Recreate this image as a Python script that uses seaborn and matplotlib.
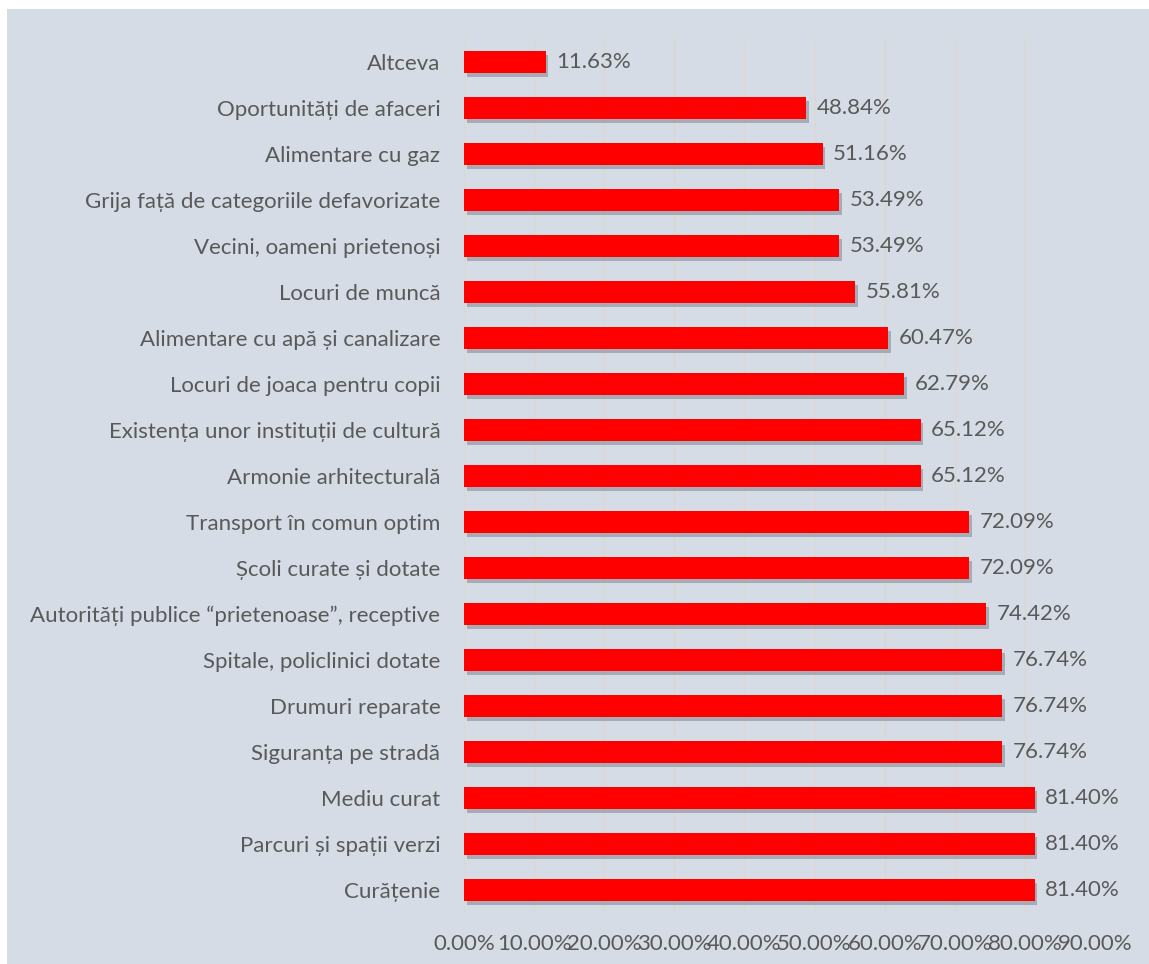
import matplotlib
matplotlib.use("Agg")
import matplotlib.pyplot as plt
import matplotlib.patheffects as pe
from matplotlib.patches import Rectangle
import seaborn as sns
import pandas as pd
from matplotlib.ticker import FuncFormatter, MultipleLocator

categories = [
    "Altceva",
    "Oportunități de afaceri",
    "Alimentare cu gaz",
    "Grija față de categoriile defavorizate",
    "Vecini, oameni prietenoși",
    "Locuri de muncă",
    "Alimentare cu apă și canalizare",
    "Locuri de joaca pentru copii",
    "Existența unor instituții de cultură",
    "Armonie arhitecturală",
    "Transport în comun optim",
    "Școli curate și dotate",
    "Autorități publice “prietenoase”, receptive",
    "Spitale, policlinici dotate",
    "Drumuri reparate",
    "Siguranța pe stradă",
    "Mediu curat",
    "Parcuri și spații verzi",
    "Curățenie",
]
values = [11.63, 48.84, 51.16, 53.49, 53.49, 55.81, 60.47, 62.79, 65.12, 65.12,
          72.09, 72.09, 74.42, 76.74, 76.74, 76.74, 81.40, 81.40, 81.40]

df = pd.DataFrame({"cat": categories, "val": values})

sns.set_theme(style="white")
plt.rcParams["font.family"] = ["Lato", "DejaVu Sans"]

bg = "#D6DCE5"
txt = "#595959"
fs = 16
W, H = 1149, 964
fig = plt.figure(figsize=(W / 100, H / 100), dpi=100, facecolor="white")
fig.patches.append(Rectangle((7 / W, 0), 1 - 7 / W, 1 - 9 / H, transform=fig.transFigure,
                             facecolor=bg, edgecolor="none", zorder=-5))
ax = fig.add_axes([464 / W, 1 - 913 / H, (1095 - 464) / W, (913 - 39) / H])
ax.set_facecolor(bg)

sns.barplot(data=df, y="cat", x="val", orient="h", color="#FF0000", width=0.48,
            saturation=1, ax=ax, zorder=3)
for p in ax.patches:
    p.set_edgecolor("none")
    p.set_path_effects([pe.SimplePatchShadow(offset=(2, -3), shadow_rgbFace="#3a3a50", alpha=0.3),
                        pe.Normal()])

for i, v in enumerate(values):
    ax.text(v + 1.5, i, f"{v:.2f}%", va="center", ha="left", fontsize=fs, color=txt)

ax.set_xlim(0, 90)
ax.set_ylim(len(categories) - 0.5, -0.5)
ax.xaxis.set_major_locator(MultipleLocator(10))
ax.xaxis.set_major_formatter(FuncFormatter(lambda x, _: f"{x:.2f}%"))
ax.grid(axis="x", color="#DDD8CF", linewidth=1, zorder=0)
ax.set_axisbelow(True)
for s in ax.spines.values():
    s.set_visible(False)
ax.tick_params(axis="both", length=0, colors=txt, labelsize=fs)
ax.tick_params(axis="y", pad=17)
ax.tick_params(axis="x", pad=15)
ax.set_xlabel("")
ax.set_ylabel("")

fig.savefig("out.png", dpi=100, facecolor="white")
